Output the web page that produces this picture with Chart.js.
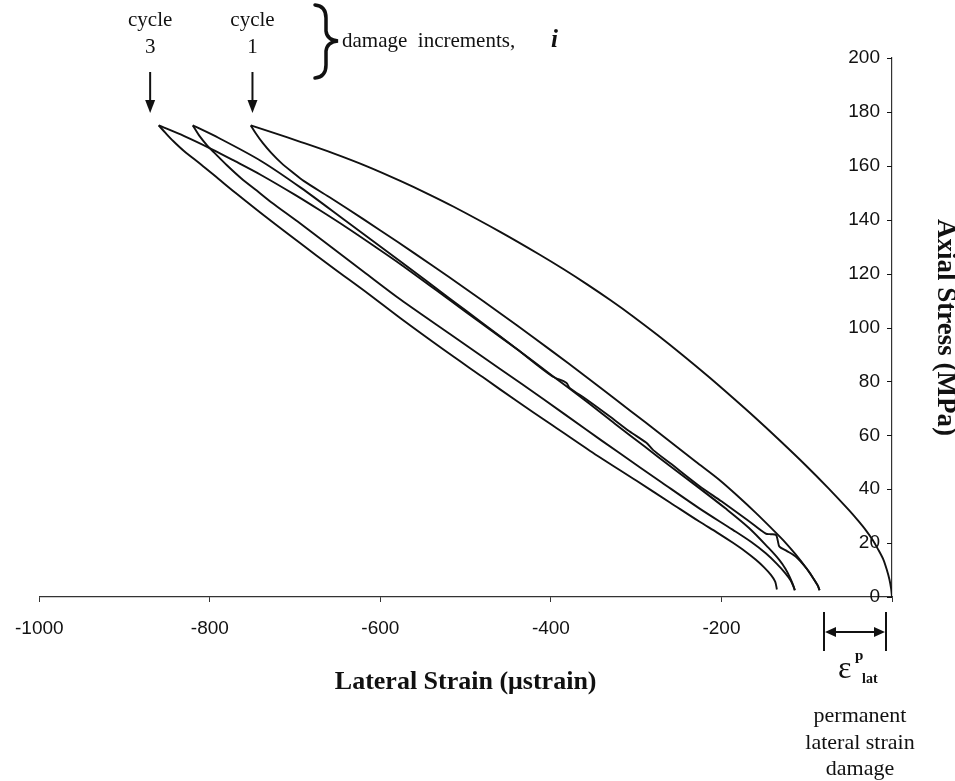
<!DOCTYPE html>
<html>
<head>
<meta charset="utf-8">
<script src="https://cdn.jsdelivr.net/npm/chart.js@4/dist/chart.umd.min.js"></script>
<style>
  html, body { margin: 0; padding: 0; background: #fff; }
  #wrap { width: 955px; height: 781px; }
</style>
</head>
<body>
<div id="wrap"><canvas id="cycleChart" width="955" height="781"></canvas></div>
<script>
// lateral strain (microstrain), axial stress (MPa) pairs
var load1 = [[0,0],[-1,3],[-3,6.5],[-6,10],[-10,13.8],[-16,17.5],[-23,21.3],[-31,24.9],[-40,28.4],
  [-51,32.4],[-75,40.5],[-101,48.8],[-130,57.6],[-160,66.4],[-187,74],[-215,81.7],[-245,89.6],
  [-275,97.2],[-304,104.2],[-330,110.1],[-358,116.1],[-385,121.6],[-413,127],[-459,135.4],
  [-514,144.8],[-545,149.7],[-576,154.3],[-615,159.7],[-655,164.6],[-693,168.8],[-725,172.2],[-752,175]];

var unload1 = [[-752,175],[-746,172],[-738,168.5],[-728,164.8],[-716,161],[-703,157.6],[-690,154.4],
  [-660,148.4],[-620,140.2],[-580,131.8],[-540,123.2],[-500,114.4],[-460,105.4],[-420,96.2],
  [-380,86.8],[-340,77.2],[-324,73.3],[-290,65],[-260,57.6],[-230,50.2],[-203,43.6],[-180,37.2],
  [-160,31.3],[-136,23.8],[-125,20.2],[-113,15.8],[-100,10.5],[-92,6.8],[-87,4.2],[-85,2.5]];

var reload2 = [[-85,2.5],[-87,4.2],[-92,6.8],[-100,10.5],[-113,15],[-124,17.2],[-132,18.7],[-134,21],
  [-136,23],[-142,23.3],[-148,23.5],[-170,28.7],[-200,35.5],[-226,41.2],[-260,49.6],[-280,54.5],
  [-288,57.2],[-308,61.5],[-330,66.8],[-359,73.5],[-378,77.6],[-382,79.5],[-399,82],[-440,92],
  [-480,101.6],[-518,110.6],[-576,124.4],[-640,139.4],[-693,151.8],[-740,161.8],[-790,170.4],[-820,175]];

var unload2 = [[-820,175],[-812,171],[-803,167.5],[-794,164.6],[-780,160.2],[-763,155.3],[-745,150.8],
  [-728,146.5],[-697,139.3],[-660,130.4],[-620,120.8],[-576,110.3],[-518,97.5],[-460,84.7],[-409,73.5],
  [-360,62.4],[-320,53.5],[-270,42.5],[-226,32.9],[-187,25],[-165,20.4],[-148,16.2],[-135,12.3],
  [-125,8.8],[-119,6.2],[-115,3.5],[-114,2.5]];

var reload3 = [[-114,2.5],[-116,4.5],[-120,7.5],[-125,10.5],[-132,13.7],[-145,18.3],[-168,25.7],
  [-195,32.8],[-226,40.4],[-260,48.5],[-290,55.8],[-325,64.3],[-359,72.7],[-400,82.5],[-440,92],
  [-480,101.2],[-518,110],[-576,123.4],[-610,130.8],[-640,137.2],[-670,143.3],[-700,149.2],
  [-740,156.6],[-771,161.8],[-798,166.2],[-830,171],[-860,175]];

var unload3 = [[-860,175],[-852,172.2],[-843,169.2],[-830,165.4],[-810,160.4],[-790,155.2],[-770,150],
  [-733,140.7],[-695,131.5],[-655,122],[-615,112.7],[-576,103.3],[-526,91.8],[-480,81.6],[-440,72.7],
  [-400,64.1],[-354,54.2],[-300,43.2],[-260,35],[-226,28],[-205,23.9],[-187,20.2],[-172,16.9],
  [-160,13.9],[-150,11],[-142,8.2],[-137,5.7],[-135,2.8]];

var branches = [load1, unload1, reload2, unload2, reload3, unload3];

var xTicks = [-1000, -800, -600, -400, -200];
var yTicks = [0, 20, 40, 60, 80, 100, 120, 140, 160, 180, 200];

var sans = "'Liberation Sans', Arial, sans-serif";
var serif = "'Liberation Serif', 'Times New Roman', serif";

var extras = {
  id: 'extras',
  afterDraw: function(chart) {
    var ctx = chart.ctx;
    var xs = chart.scales.x, ys = chart.scales.y;
    ctx.save();
    ctx.strokeStyle = '#111';
    ctx.fillStyle = '#111';

    // inward tick marks on the stress axis
    ctx.lineWidth = 1;
    ys.ticks.forEach(function(t) {
      var py = Math.round(ys.getPixelForValue(t.value)) + 0.5;
      ctx.beginPath();
      ctx.moveTo(ys.left - 5, py);
      ctx.lineTo(ys.left, py);
      ctx.stroke();
    });

    // cycle labels + arrows
    ctx.textAlign = 'center';
    ctx.textBaseline = 'alphabetic';
    ctx.font = '21px ' + serif;
    [[-870, 'cycle', '3'], [-750, 'cycle', '1']].forEach(function(c) {
      var px = xs.getPixelForValue(c[0]);
      ctx.fillText(c[1], px, 26);
      ctx.fillText(c[2], px, 53);
      ctx.lineWidth = 2;
      ctx.beginPath();
      ctx.moveTo(px, 72);
      ctx.lineTo(px, 104);
      ctx.stroke();
      ctx.beginPath();
      ctx.moveTo(px - 5, 100);
      ctx.lineTo(px + 5, 100);
      ctx.lineTo(px, 113);
      ctx.closePath();
      ctx.fill();
    });

    // brace
    var bx = 318;
    ctx.lineWidth = 3.5;
    ctx.lineCap = 'round';
    ctx.beginPath();
    ctx.moveTo(bx - 3, 5);
    ctx.quadraticCurveTo(bx + 8, 6, bx + 8, 18);
    ctx.lineTo(bx + 8, 31);
    ctx.quadraticCurveTo(bx + 9, 40, bx + 20, 41);
    ctx.quadraticCurveTo(bx + 9, 42, bx + 8, 51);
    ctx.lineTo(bx + 8, 65);
    ctx.quadraticCurveTo(bx + 8, 77, bx - 3, 78);
    ctx.stroke();

    ctx.textAlign = 'left';
    ctx.font = '21px ' + serif;
    ctx.fillText('damage  increments,', 342, 47);
    ctx.font = 'italic bold 25px ' + serif;
    ctx.fillText('i', 551, 47);

    // permanent strain span
    var x1 = 824, x2 = 886;
    ctx.lineWidth = 2;
    ctx.lineCap = 'butt';
    ctx.beginPath();
    ctx.moveTo(x1, 612); ctx.lineTo(x1, 651);
    ctx.moveTo(x2, 612); ctx.lineTo(x2, 651);
    ctx.moveTo(x1 + 8, 632); ctx.lineTo(x2 - 8, 632);
    ctx.stroke();
    ctx.beginPath();
    ctx.moveTo(x1 + 1, 632); ctx.lineTo(x1 + 12, 627); ctx.lineTo(x1 + 12, 637); ctx.closePath();
    ctx.moveTo(x2 - 1, 632); ctx.lineTo(x2 - 12, 627); ctx.lineTo(x2 - 12, 637); ctx.closePath();
    ctx.fill();

    ctx.font = '32px ' + serif;
    ctx.fillText('\u03b5', 838, 678);
    ctx.font = 'bold 15px ' + serif;
    ctx.fillText('p', 855, 660);
    ctx.font = 'bold 14px ' + serif;
    ctx.fillText('lat', 862, 683);

    ctx.textAlign = 'center';
    ctx.font = '22px ' + serif;
    ctx.fillText('permanent', 860, 722);
    ctx.fillText('lateral strain', 860, 749);
    ctx.fillText('damage', 860, 775);
    ctx.restore();
  }
};

var ctx = document.getElementById('cycleChart').getContext('2d');

var datasets = branches.map(function(b) {
  return {
    data: b.map(function(p) { return {x: p[0], y: p[1]}; }),
    showLine: true,
    borderColor: '#111',
    borderWidth: 1.9,
    pointRadius: 0,
    fill: false,
    tension: 0.3
  };
});

var cycleChart = new Chart(ctx, {
  type: 'scatter',
  data: { datasets: datasets },
  plugins: [extras],
  options: {
    responsive: false,
    animation: false,
    layout: { padding: { left: 37, top: 58, right: 0, bottom: 84 } },
    plugins: { legend: { display: false }, tooltip: { enabled: false } },
    scales: {
      x: {
        type: 'linear',
        position: 'bottom',
        min: -1000,
        max: 0,
        afterFit: function(s) { s.height = 100; },
        afterBuildTicks: function(s) {
          s.ticks = xTicks.concat([0]).map(function(v) { return {value: v}; });
        },
        ticks: {
          color: '#111',
          font: { family: sans, size: 19 },
          padding: 15,
          maxRotation: 0,
          callback: function(v) { return v === 0 ? '' : String(v); }
        },
        grid: { drawOnChartArea: false, drawTicks: true, tickLength: 5, color: '#333' },
        border: { display: true, color: '#333', width: 1.2 },
        title: {
          display: true,
          text: 'Lateral Strain (\u03bcstrain)',
          color: '#111',
          font: { family: serif, size: 26, weight: 'bold', lineHeight: 1.2 },
          padding: { top: 0, bottom: -1 }
        }
      },
      y: {
        type: 'linear',
        position: 'right',
        min: 0,
        max: 200,
        afterFit: function(s) { s.width = 63; },
        afterBuildTicks: function(s) {
          s.ticks = yTicks.map(function(v) { return {value: v}; });
        },
        ticks: {
          mirror: true,
          padding: -12,
          color: '#111',
          font: { family: sans, size: 19 }
        },
        grid: { display: false },
        border: { display: true, color: '#333', width: 1.2 },
        title: {
          display: true,
          text: 'Axial Stress (MPa)',
          color: '#111',
          font: { family: serif, size: 27, weight: 'bold', lineHeight: 1 },
          padding: { top: -3, bottom: 0 }
        }
      }
    }
  }
});
</script>
</body>
</html>
